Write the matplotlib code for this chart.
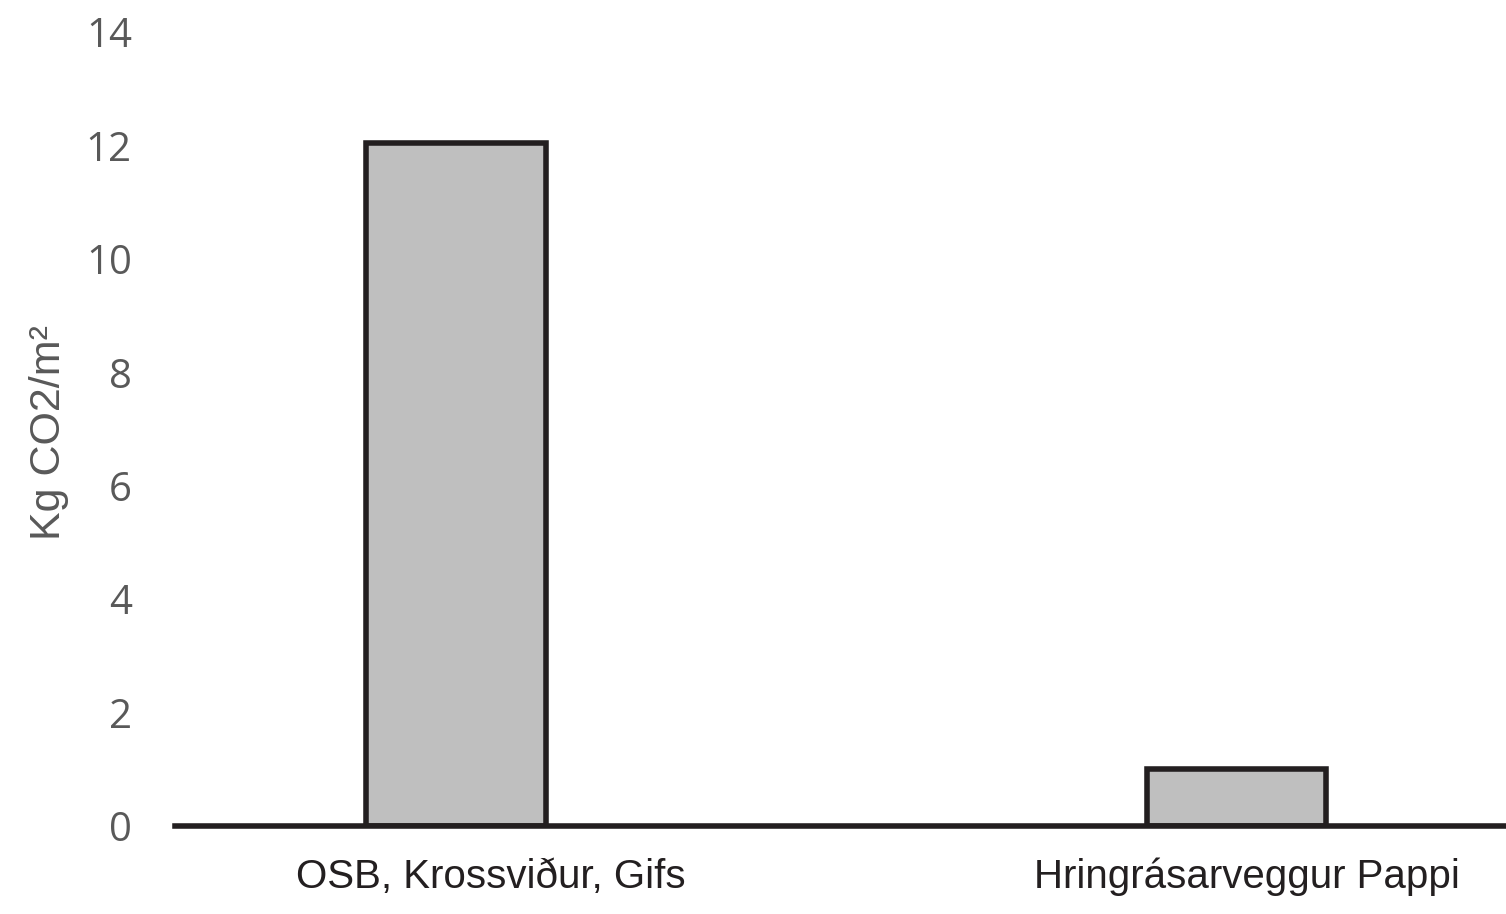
import matplotlib
matplotlib.use("Agg")
import matplotlib.pyplot as plt
import matplotlib.transforms as mtransforms
from matplotlib import font_manager

categories = ["OSB, Krossviður, Gifs", "Hringrásarveggur Pappi"]
values = [12.05, 1.0]
yticks = [0, 2, 4, 6, 8, 10, 12, 14]

names = {f.name for f in font_manager.fontManager.ttflist}
narrow = "Liberation Sans Narrow" if "Liberation Sans Narrow" in names else "Liberation Sans"

fig = plt.figure(figsize=(15.06, 9.14), dpi=100)
ax = fig.add_axes([175 / 1506, 88 / 914, 1 - 175 / 1506, (826 - 32) / 914])

ax.bar(range(len(categories)), values, width=0.23, color="#bfbfbf",
       edgecolor="#231f20", linewidth=4, zorder=2)

ax.set_xlim(-0.36, 1.345)
ax.set_ylim(0, 14)
ax.set_yticks(yticks)
ax.set_yticklabels([str(t) for t in yticks], fontfamily="Open Sans",
                   fontsize=29, color="#595959")
ax.set_xticks(range(len(categories)))
ax.set_xticklabels(categories, fontfamily=narrow, fontsize=29, color="#231f20")
ax.tick_params(axis="y", length=0, pad=31)
ax.tick_params(axis="x", length=0, pad=23)

# labels sit a little right of the bar centres in the original
for lab, dx in zip(ax.get_xticklabels(), [35, 10]):
    lab.set_transform(lab.get_transform() +
                      mtransforms.ScaledTranslation(dx / 100, 0, fig.dpi_scale_trans))

for s in ["top", "right", "left"]:
    ax.spines[s].set_visible(False)
ax.spines["bottom"].set_linewidth(4)
ax.spines["bottom"].set_color("#231f20")
ax.spines["bottom"].set_zorder(3)

ax.set_ylabel("Kg CO2/m²", fontfamily=narrow, fontsize=31, color="#595959")
ax.yaxis.set_label_coords(-0.08, 0.496)

fig.savefig("out.png", dpi=100)
